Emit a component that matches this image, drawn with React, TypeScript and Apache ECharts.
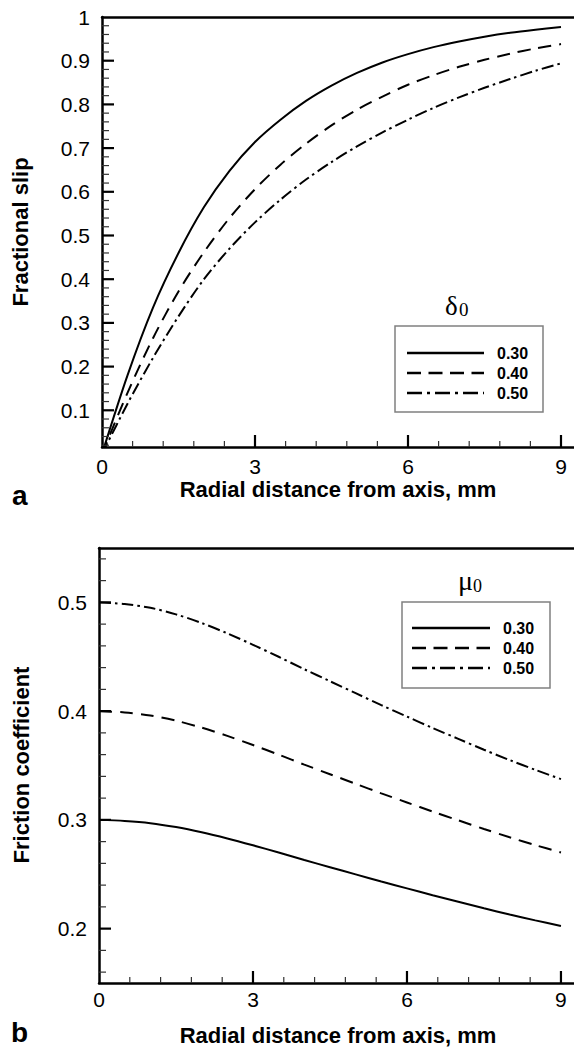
import React, { useEffect, useRef } from "react";
import * as echarts from "echarts";

// ---- data ----
const X_VALUES = [0, 0.5, 1, 1.5, 2, 2.5, 3, 3.5, 4, 4.5, 5, 5.5, 6, 6.5, 7, 7.5, 8, 8.5, 9];

// (a) Fractional slip, delta0 = 0.30 / 0.40 / 0.50
const SLIP_030 = [0, 0.18, 0.335, 0.46, 0.565, 0.648, 0.714, 0.765, 0.808, 0.843, 0.872, 0.896, 0.915, 0.931, 0.944, 0.955, 0.964, 0.971, 0.977];
const SLIP_040 = [0, 0.14, 0.265, 0.372, 0.462, 0.54, 0.606, 0.662, 0.71, 0.752, 0.788, 0.818, 0.845, 0.867, 0.886, 0.902, 0.916, 0.928, 0.938];
const SLIP_050 = [0, 0.115, 0.22, 0.315, 0.4, 0.47, 0.53, 0.582, 0.628, 0.668, 0.704, 0.736, 0.765, 0.792, 0.816, 0.838, 0.858, 0.877, 0.894];

// (b) Friction coefficient, mu0 = 0.30 / 0.40 / 0.50
const FRIC_030 = [0.3, 0.299, 0.297, 0.2934, 0.2886, 0.2829, 0.2766, 0.27, 0.2631, 0.2565, 0.2499, 0.2433, 0.237, 0.2307, 0.2247, 0.2187, 0.213, 0.2076, 0.2025];
const FRIC_040 = [0.4, 0.3988, 0.396, 0.3912, 0.3848, 0.3772, 0.3688, 0.36, 0.3508, 0.342, 0.3332, 0.3244, 0.316, 0.3076, 0.2996, 0.2916, 0.284, 0.2768, 0.27];
const FRIC_050 = [0.5, 0.4985, 0.495, 0.489, 0.481, 0.4715, 0.461, 0.45, 0.4385, 0.4275, 0.4165, 0.4055, 0.395, 0.3845, 0.3745, 0.3645, 0.355, 0.346, 0.3375];

const X_TICKS = [0, 3, 6, 9];
const X_MINOR = [0.6, 1.2, 1.8, 2.4, 3.6, 4.2, 4.8, 5.4, 6.6, 7.2, 7.8, 8.4];
const SLIP_TICKS = [0.1, 0.2, 0.3, 0.4, 0.5, 0.6, 0.7, 0.8, 0.9, 1];
const FRIC_TICKS = [0.2, 0.3, 0.4, 0.5];
const LEGEND_LABELS = ["0.30", "0.40", "0.50"];
const X_TITLE = "Radial distance from axis, mm";
const SLIP_TITLE = "Fractional slip";
const FRIC_TITLE = "Friction coefficient";

function minorTicks(from: number, to: number, step: number, majors: number[]) {
  const out: number[] = [];
  const n = Math.round((to - from) / step);
  for (let i = 0; i <= n; i++) {
    const v = Math.round((from + i * step) * 1000) / 1000;
    if (!majors.some((m) => Math.abs(m - v) < 1e-6)) out.push(v);
  }
  return out;
}

const SANS = "'Liberation Sans', Arial, Helvetica, sans-serif";
const SERIF = "'Liberation Serif', 'Times New Roman', serif";

const SOLID = "solid";
const DASHED = [13, 8];
const DASHDOT = [12, 4, 2.5, 4];

export default function App() {
  const ref = useRef<HTMLDivElement>(null);

  useEffect(() => {
    if (!ref.current) return;
    const chart = echarts.init(ref.current, null, { renderer: "svg" });

    const mainX = (gridIndex: number, min: number, max: number, margin: number) => ({
      type: "value",
      gridIndex,
      position: "bottom",
      min,
      max,
      splitLine: { show: false },
      axisLine: { show: true, onZero: false, lineStyle: { color: "#000", width: 2.5 } },
      axisTick: { show: false },
      axisLabel: { show: true, customValues: X_TICKS, margin, fontSize: 21, color: "#000", fontFamily: SANS },
    });
    const topX = (gridIndex: number, min: number, max: number) => ({
      type: "value",
      gridIndex,
      position: "top",
      min,
      max,
      splitLine: { show: false },
      axisLine: { show: true, onZero: false, lineStyle: { color: "#000", width: 2.5 } },
      axisTick: { show: false },
      axisLabel: { show: false },
    });
    const mainY = (gridIndex: number, min: number, max: number, ticks: number[]) => ({
      type: "value",
      gridIndex,
      position: "left",
      min,
      max,
      splitLine: { show: false },
      axisLine: { show: true, onZero: false, lineStyle: { color: "#000", width: 2.5 } },
      axisTick: { show: false },
      axisLabel: { show: true, customValues: ticks, margin: 12, fontSize: 21, color: "#000", fontFamily: SANS },
    });

    const X_MAX_A = 9.255;
    const X_MAX_B = 9.254;
    const Y_MIN_A = 0.016;
    const Y_MIN_B = 0.15;

    const line = (name: string, xi: number, yi: number, ys: number[], type: any) => ({
      name,
      type: "line",
      xAxisIndex: xi,
      yAxisIndex: yi,
      data: X_VALUES.map((x, i) => [x, ys[i]]),
      symbol: "none",
      smooth: 0.3,
      clip: true,
      lineStyle: { color: "#000", width: 2, type },
      z: 3,
    });

    const legendBox = (x: number, y: number, w: number, h: number, lx1: number, lx2: number, tx: number, y0: number, dy: number) => {
      const els: any[] = [
        { type: "rect", shape: { x, y, width: w, height: h }, style: { fill: "#fff", stroke: "#808080", lineWidth: 1.5 }, z: 10 },
      ];
      const dashes: any[] = [null, [14, 7.5], [15, 5, 3, 5]];
      LEGEND_LABELS.forEach((lab, i) => {
        const yy = y0 + i * dy;
        els.push({
          type: "line",
          shape: { x1: lx1, y1: yy, x2: lx2, y2: yy },
          style: { stroke: "#000", lineWidth: 2.5, lineDash: dashes[i] },
          z: 11,
        });
        els.push({
          type: "text",
          x: tx,
          y: yy,
          style: { text: lab, fontSize: 16, fontWeight: "bold", fontFamily: SANS, fill: "#000", align: "left", verticalAlign: "middle" },
          z: 11,
        });
      });
      return els;
    };

    const baseGraphic: any[] = [
      // axis titles
      { type: "text", x: 338, y: 489, style: { text: X_TITLE, fontSize: 22, fontWeight: "bold", fontFamily: SANS, fill: "#000", align: "center", verticalAlign: "middle" } },
      { type: "text", x: 338, y: 1035, style: { text: X_TITLE, fontSize: 22, fontWeight: "bold", fontFamily: SANS, fill: "#000", align: "center", verticalAlign: "middle" } },
      { type: "text", x: 20, y: 232, rotation: Math.PI / 2, style: { text: SLIP_TITLE, fontSize: 22, fontWeight: "bold", fontFamily: SANS, fill: "#000", align: "center", verticalAlign: "middle" } },
      { type: "text", x: 21, y: 765, rotation: Math.PI / 2, style: { text: FRIC_TITLE, fontSize: 22, fontWeight: "bold", fontFamily: SANS, fill: "#000", align: "center", verticalAlign: "middle" } },
      // panel letters
      { type: "text", x: 12, y: 495, style: { text: "a", fontSize: 28, fontWeight: "bold", fontFamily: SANS, fill: "#000", align: "left", verticalAlign: "middle" } },
      { type: "text", x: 11, y: 1032, style: { text: "b", fontSize: 28, fontWeight: "bold", fontFamily: SANS, fill: "#000", align: "left", verticalAlign: "middle" } },
      // legend headings
      { type: "text", x: 445, y: 306, style: { text: "δ", fontSize: 27, fontFamily: SERIF, fill: "#000", align: "left", verticalAlign: "middle" } },
      { type: "text", x: 459, y: 309, style: { text: "0", fontSize: 19, fontFamily: SERIF, fill: "#000", align: "left", verticalAlign: "middle" } },
      { type: "text", x: 458, y: 580, style: { text: "μ", fontSize: 28, fontFamily: SERIF, fill: "#000", align: "left", verticalAlign: "middle" } },
      { type: "text", x: 473, y: 586, style: { text: "0", fontSize: 18, fontFamily: SERIF, fill: "#000", align: "left", verticalAlign: "middle" } },
      ...legendBox(395, 326, 148, 86, 407, 484, 497, 353, 20),
      ...legendBox(402, 602, 148, 86, 412, 490, 503, 628, 20),
    ];

    const option: any = {
      animation: false,
      backgroundColor: "#fff",
      grid: [
        { left: 102, top: 17, width: 472, height: 430, containLabel: false },
        { left: 99, top: 548, width: 475, height: 435, containLabel: false },
      ],
      xAxis: [
        mainX(0, 0, X_MAX_A, 9),
        topX(0, 0, X_MAX_A),
        mainX(1, 0, X_MAX_B, 6),
        topX(1, 0, X_MAX_B),
      ],
      yAxis: [
        mainY(0, Y_MIN_A, 1, SLIP_TICKS),
        mainY(1, Y_MIN_B, 0.55, FRIC_TICKS),
      ],
      series: [
        line("δ0 0.30", 0, 0, SLIP_030, SOLID),
        line("δ0 0.40", 0, 0, SLIP_040, DASHED),
        line("δ0 0.50", 0, 0, SLIP_050, DASHDOT),
        line("μ0 0.30", 2, 1, FRIC_030, SOLID),
        line("μ0 0.40", 2, 1, FRIC_040, DASHED),
        line("μ0 0.50", 2, 1, FRIC_050, DASHDOT),
      ],
      graphic: baseGraphic,
    };

    chart.setOption(option);

    // inside tick marks, positioned through the axes' own scales
    const ticks: any[] = [];
    const addXTicks = (xi: number, yi: number, yMin: number, values: number[], len: number, major: boolean) => {
      const yPix = chart.convertToPixel({ yAxisIndex: yi } as any, yMin) as number;
      values.forEach((v) => {
        const xPix = chart.convertToPixel({ xAxisIndex: xi } as any, v) as number;
        ticks.push({
          type: "line",
          shape: { x1: xPix, y1: yPix, x2: xPix, y2: yPix - len },
          style: { stroke: major ? "#000" : "#333", lineWidth: major ? 2.2 : 1.2 },
          z: 5,
        });
      });
    };
    const addYTicks = (xi: number, yi: number, xMin: number, values: number[], len: number, major: boolean) => {
      const xPix = chart.convertToPixel({ xAxisIndex: xi } as any, xMin) as number;
      values.forEach((v) => {
        const yPix = chart.convertToPixel({ yAxisIndex: yi } as any, v) as number;
        ticks.push({
          type: "line",
          shape: { x1: xPix, y1: yPix, x2: xPix + len, y2: yPix },
          style: { stroke: major ? "#000" : "#333", lineWidth: major ? 2.2 : 1.2 },
          z: 5,
        });
      });
    };
    addXTicks(0, 0, Y_MIN_A, X_TICKS.filter((v) => v > 0), 12, true);
    addXTicks(0, 0, Y_MIN_A, X_MINOR, 6, false);
    addYTicks(0, 0, 0, SLIP_TICKS.filter((v) => v < 1), 12, true);
    addYTicks(0, 0, 0, minorTicks(0.02, 0.98, 0.02, SLIP_TICKS), 7, false);
    addXTicks(2, 1, Y_MIN_B, X_TICKS.filter((v) => v > 0), 12, true);
    addXTicks(2, 1, Y_MIN_B, X_MINOR, 6, false);
    addYTicks(2, 1, 0, FRIC_TICKS, 12, true);
    addYTicks(2, 1, 0, minorTicks(0.16, 0.54, 0.02, FRIC_TICKS), 7, false);

    chart.setOption({ graphic: [...baseGraphic, ...ticks] });

    return () => chart.dispose();
  }, []);

  return (
    <div
      ref={ref}
      style={{ position: "absolute", left: 0, top: 0, width: 574, height: 1049, background: "#fff" }}
    />
  );
}
